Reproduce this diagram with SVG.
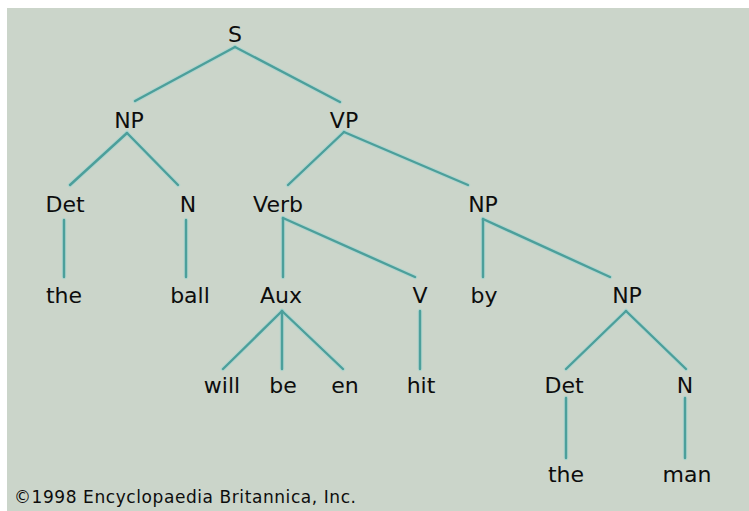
<svg xmlns="http://www.w3.org/2000/svg" width="749" height="511" viewBox="0 0 749 511">
<style>
.bg{fill:#cbd5ca}
.t{font-family:"DejaVu Sans","Liberation Sans",sans-serif;font-size:22px;fill:#0d0d0d;text-anchor:middle}
.c{font-family:"DejaVu Sans","Liberation Sans",sans-serif;font-size:17px;fill:#0d0d0d}
.e line{stroke:#4c9f9b;stroke-width:2.4;stroke-linecap:round}
.h line{stroke:#9fd6d2;stroke-width:4.5;stroke-linecap:round;opacity:0.55}
</style>
<rect width="749" height="511" fill="#ffffff"/>
<rect class="bg" x="7" y="8" width="742" height="503"/>
<g id="connectors">
<g class="h">
<line x1="235" y1="47" x2="135" y2="101"/><line x1="235" y1="47" x2="340" y2="102"/>
<line x1="127" y1="133" x2="70" y2="185"/><line x1="127" y1="133" x2="178" y2="185"/>
<line x1="344" y1="132" x2="288" y2="185"/><line x1="344" y1="132" x2="468" y2="185"/>
<line x1="64" y1="220" x2="64" y2="277"/><line x1="186" y1="220" x2="186" y2="277"/>
<line x1="283" y1="218" x2="283" y2="277"/><line x1="283" y1="218" x2="415" y2="277"/>
<line x1="483" y1="219" x2="483" y2="277"/><line x1="483" y1="219" x2="610" y2="277"/>
<line x1="282" y1="311" x2="223" y2="369"/><line x1="282" y1="311" x2="282" y2="369"/><line x1="282" y1="311" x2="343" y2="369"/>
<line x1="420" y1="311" x2="420" y2="369"/>
<line x1="626" y1="311" x2="566" y2="369"/><line x1="626" y1="311" x2="686" y2="369"/>
<line x1="566" y1="398" x2="566" y2="458"/><line x1="685" y1="398" x2="685" y2="458"/>
</g>
<g class="e">
<line x1="235" y1="47" x2="135" y2="101"/><line x1="235" y1="47" x2="340" y2="102"/>
<line x1="127" y1="133" x2="70" y2="185"/><line x1="127" y1="133" x2="178" y2="185"/>
<line x1="344" y1="132" x2="288" y2="185"/><line x1="344" y1="132" x2="468" y2="185"/>
<line x1="64" y1="220" x2="64" y2="277"/><line x1="186" y1="220" x2="186" y2="277"/>
<line x1="283" y1="218" x2="283" y2="277"/><line x1="283" y1="218" x2="415" y2="277"/>
<line x1="483" y1="219" x2="483" y2="277"/><line x1="483" y1="219" x2="610" y2="277"/>
<line x1="282" y1="311" x2="223" y2="369"/><line x1="282" y1="311" x2="282" y2="369"/><line x1="282" y1="311" x2="343" y2="369"/>
<line x1="420" y1="311" x2="420" y2="369"/>
<line x1="626" y1="311" x2="566" y2="369"/><line x1="626" y1="311" x2="686" y2="369"/>
<line x1="566" y1="398" x2="566" y2="458"/><line x1="685" y1="398" x2="685" y2="458"/>
</g>
</g>
<g id="n-S"><text class="t" x="235" y="42">S</text></g>
<g id="n-NP1"><text class="t" x="129" y="128">NP</text></g>
<g id="n-VP"><text class="t" x="344" y="128">VP</text></g>
<g id="n-Det1"><text class="t" x="65" y="212">Det</text></g>
<g id="n-N1"><text class="t" x="188" y="212">N</text></g>
<g id="n-Verb"><text class="t" x="278" y="212">Verb</text></g>
<g id="n-NP2"><text class="t" x="483" y="212">NP</text></g>
<g id="n-the1"><text class="t" x="64" y="303">the</text></g>
<g id="n-ball"><text class="t" x="190" y="303">ball</text></g>
<g id="n-Aux"><text class="t" x="281" y="303">Aux</text></g>
<g id="n-V"><text class="t" x="420" y="303">V</text></g>
<g id="n-by"><text class="t" x="484" y="303">by</text></g>
<g id="n-NP3"><text class="t" x="627" y="303">NP</text></g>
<g id="n-will"><text class="t" x="222" y="393">will</text></g>
<g id="n-be"><text class="t" x="283" y="393">be</text></g>
<g id="n-en"><text class="t" x="345" y="393">en</text></g>
<g id="n-hit"><text class="t" x="421" y="393">hit</text></g>
<g id="n-Det2"><text class="t" x="564" y="393">Det</text></g>
<g id="n-N2"><text class="t" x="685" y="393">N</text></g>
<g id="n-the2"><text class="t" x="566" y="482">the</text></g>
<g id="n-man"><text class="t" x="687" y="482">man</text></g>
<text class="c" x="14" y="503" textLength="342" lengthAdjust="spacing">©1998 Encyclopaedia Britannica, Inc.</text>
</svg>
